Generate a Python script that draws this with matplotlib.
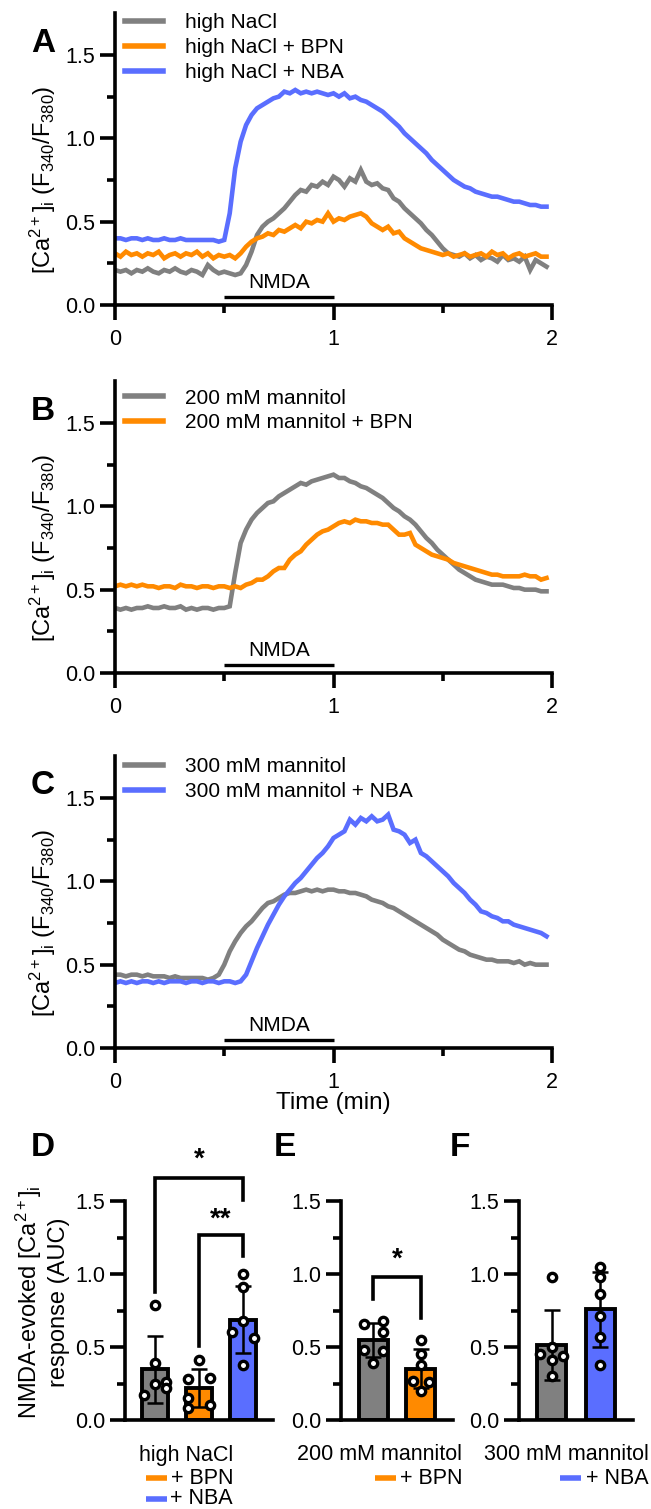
import numpy as np
import matplotlib
matplotlib.use('Agg')
import matplotlib.pyplot as plt
from matplotlib.lines import Line2D

plt.rcParams['font.family'] = ['Liberation Sans', 'DejaVu Sans']
plt.rcParams['mathtext.fontset'] = 'custom'
plt.rcParams['mathtext.rm'] = 'Liberation Sans'
plt.rcParams['mathtext.it'] = 'Liberation Sans:italic'
plt.rcParams['mathtext.bf'] = 'Liberation Sans:bold'

GRAY = '#808080'
ORANGE = '#FF8A00'
BLUE = '#5A6EFF'

# sample times (min), one frame every 1.5 s
time_min = np.arange(80) * 0.025

# panel A - high NaCl
a_nacl = [0.21, 0.20, 0.21, 0.19, 0.21, 0.20, 0.22, 0.20, 0.19, 0.21,
          0.20, 0.22, 0.20, 0.19, 0.21, 0.20, 0.18, 0.24, 0.21, 0.19,
          0.20, 0.19, 0.18, 0.19, 0.24, 0.32, 0.42, 0.47, 0.50, 0.52,
          0.55, 0.58, 0.62, 0.66, 0.69, 0.68, 0.72, 0.71, 0.74, 0.72,
          0.77, 0.75, 0.71, 0.76, 0.74, 0.81, 0.74, 0.72, 0.73, 0.70,
          0.69, 0.64, 0.62, 0.58, 0.55, 0.52, 0.49, 0.45, 0.42, 0.38,
          0.34, 0.31, 0.30, 0.29, 0.31, 0.28, 0.30, 0.27, 0.29, 0.28,
          0.26, 0.30, 0.27, 0.28, 0.26, 0.29, 0.21, 0.27, 0.25, 0.23]
a_bpn = [0.31, 0.29, 0.32, 0.30, 0.31, 0.29, 0.31, 0.30, 0.32, 0.28,
         0.30, 0.31, 0.29, 0.31, 0.30, 0.32, 0.29, 0.31, 0.28, 0.30,
         0.29, 0.30, 0.28, 0.31, 0.35, 0.38, 0.40, 0.41, 0.43, 0.42,
         0.45, 0.44, 0.46, 0.48, 0.46, 0.50, 0.49, 0.51, 0.50, 0.55,
         0.50, 0.52, 0.51, 0.53, 0.54, 0.55, 0.53, 0.49, 0.47, 0.45,
         0.47, 0.43, 0.44, 0.40, 0.38, 0.36, 0.34, 0.33, 0.32, 0.31,
         0.30, 0.31, 0.29, 0.30, 0.31, 0.29, 0.30, 0.31, 0.29, 0.32,
         0.30, 0.31, 0.28, 0.30, 0.31, 0.29, 0.30, 0.31, 0.29, 0.29]
a_nba = [0.40, 0.40, 0.39, 0.40, 0.40, 0.39, 0.40, 0.39, 0.39, 0.40,
         0.39, 0.39, 0.40, 0.39, 0.39, 0.39, 0.39, 0.39, 0.39, 0.38,
         0.39, 0.55, 0.82, 0.98, 1.08, 1.14, 1.18, 1.20, 1.22, 1.24,
         1.25, 1.28, 1.27, 1.29, 1.27, 1.28, 1.27, 1.28, 1.27, 1.26,
         1.27, 1.25, 1.27, 1.24, 1.25, 1.23, 1.22, 1.20, 1.18, 1.16,
         1.13, 1.10, 1.07, 1.03, 1.00, 0.97, 0.94, 0.91, 0.87, 0.84,
         0.81, 0.78, 0.75, 0.73, 0.71, 0.70, 0.68, 0.67, 0.66, 0.65,
         0.65, 0.64, 0.63, 0.62, 0.62, 0.61, 0.60, 0.60, 0.59, 0.59]

# panel B - 200 mM mannitol
b_man = [0.39, 0.38, 0.39, 0.38, 0.39, 0.39, 0.40, 0.39, 0.39, 0.40,
         0.39, 0.39, 0.40, 0.38, 0.39, 0.38, 0.39, 0.39, 0.38, 0.39,
         0.39, 0.40, 0.60, 0.78, 0.86, 0.92, 0.96, 0.99, 1.02, 1.03,
         1.06, 1.08, 1.10, 1.12, 1.14, 1.13, 1.15, 1.16, 1.17, 1.18,
         1.19, 1.17, 1.17, 1.15, 1.14, 1.12, 1.11, 1.09, 1.07, 1.05,
         1.02, 0.99, 0.97, 0.94, 0.92, 0.89, 0.85, 0.81, 0.78, 0.74,
         0.71, 0.68, 0.65, 0.62, 0.60, 0.58, 0.56, 0.55, 0.54, 0.53,
         0.53, 0.53, 0.52, 0.51, 0.51, 0.50, 0.50, 0.50, 0.49, 0.49]
b_bpn = [0.52, 0.53, 0.52, 0.53, 0.52, 0.53, 0.52, 0.52, 0.51, 0.52,
         0.52, 0.51, 0.53, 0.52, 0.52, 0.51, 0.52, 0.52, 0.51, 0.52,
         0.52, 0.51, 0.52, 0.51, 0.53, 0.54, 0.56, 0.56, 0.58, 0.61,
         0.63, 0.63, 0.68, 0.71, 0.73, 0.77, 0.80, 0.83, 0.85, 0.86,
         0.88, 0.90, 0.91, 0.90, 0.92, 0.91, 0.91, 0.90, 0.90, 0.89,
         0.89, 0.86, 0.83, 0.83, 0.84, 0.77, 0.75, 0.73, 0.71, 0.70,
         0.69, 0.68, 0.66, 0.65, 0.64, 0.63, 0.62, 0.61, 0.60, 0.59,
         0.59, 0.58, 0.58, 0.58, 0.58, 0.59, 0.58, 0.58, 0.56, 0.57]

# panel C - 300 mM mannitol
c_man = [0.44, 0.44, 0.43, 0.44, 0.44, 0.43, 0.44, 0.43, 0.43, 0.43,
         0.42, 0.43, 0.42, 0.42, 0.42, 0.42, 0.42, 0.41, 0.42, 0.44,
         0.50, 0.58, 0.64, 0.69, 0.73, 0.76, 0.80, 0.84, 0.87, 0.88,
         0.90, 0.92, 0.93, 0.93, 0.94, 0.95, 0.94, 0.95, 0.94, 0.95,
         0.95, 0.94, 0.94, 0.93, 0.93, 0.92, 0.91, 0.89, 0.88, 0.87,
         0.85, 0.84, 0.82, 0.80, 0.78, 0.76, 0.74, 0.72, 0.70, 0.68,
         0.65, 0.63, 0.61, 0.59, 0.58, 0.56, 0.55, 0.54, 0.53, 0.53,
         0.52, 0.52, 0.52, 0.51, 0.52, 0.50, 0.51, 0.50, 0.50, 0.50]
c_nba = [0.39, 0.40, 0.39, 0.40, 0.39, 0.40, 0.40, 0.39, 0.40, 0.39,
         0.40, 0.40, 0.40, 0.39, 0.40, 0.40, 0.39, 0.40, 0.40, 0.39,
         0.40, 0.40, 0.39, 0.40, 0.44, 0.52, 0.60, 0.67, 0.74, 0.80,
         0.86, 0.91, 0.95, 0.99, 1.02, 1.06, 1.10, 1.14, 1.17, 1.21,
         1.26, 1.28, 1.30, 1.37, 1.34, 1.38, 1.36, 1.39, 1.36, 1.37,
         1.40, 1.31, 1.30, 1.28, 1.23, 1.25, 1.17, 1.15, 1.12, 1.09,
         1.06, 1.03, 0.99, 0.96, 0.93, 0.89, 0.86, 0.82, 0.81, 0.79,
         0.78, 0.76, 0.76, 0.74, 0.73, 0.72, 0.71, 0.70, 0.69, 0.67]

# AUC per coverslip
d_nacl = [0.79, 0.39, 0.25, 0.26, 0.22, 0.17]
d_bpn = [0.41, 0.28, 0.29, 0.15, 0.08, 0.10]
d_nba = [1.00, 0.91, 0.68, 0.60, 0.56, 0.38]
e_man = [0.66, 0.68, 0.60, 0.48, 0.47, 0.39]
e_bpn = [0.55, 0.45, 0.38, 0.27, 0.26, 0.20]
f_man = [0.98, 0.50, 0.45, 0.44, 0.41, 0.30]
f_nba = [1.05, 0.98, 0.86, 0.71, 0.57, 0.38]

W, H = 651, 1509
fig = plt.figure(figsize=(W / 100, H / 100), dpi=100)


def px_axes(left, right, bottom, top):
    return fig.add_axes([left / W, 1 - bottom / H, (right - left) / W, (bottom - top) / H])


def style(ax):
    ax.spines['top'].set_visible(False)
    ax.spines['right'].set_visible(False)
    ax.spines['left'].set_linewidth(2.6)
    ax.spines['bottom'].set_linewidth(2.6)
    ax.tick_params(which='major', length=11, width=2.6, labelsize=15.5, pad=3)
    ax.tick_params(which='minor', length=6, width=2.6)
    ax.set_yticks([0.25, 0.75, 1.25], minor=True)


ylab = '[Ca$^{2+}$]$_\\mathrm{i}$ (F$_{340}$/F$_{380}$)'


def trace_panel(zero_px, traces, labels, colors, leg_top, letter):
    ax = px_axes(115, 552, zero_px, zero_px - 291.7)
    for y, lab, c in zip(traces, labels, colors):
        ax.plot(time_min, y, color=c, lw=3.3, label=lab, solid_joinstyle='miter')
    ax.set_xlim(0, 2)
    ax.set_ylim(0, 1.75)
    ax.set_xticks([0, 1, 2])
    ax.set_xticklabels(['0', '1', '2'])
    ax.set_xticks([0.5, 1.5], minor=True)
    ax.set_yticks([0, 0.5, 1.0, 1.5])
    ax.set_yticklabels(['0.0', '0.5', '1.0', '1.5'])
    style(ax)
    ax.tick_params(axis='x', pad=6)
    # NMDA application bar
    ax.plot([0.5, 1.0], [0.045, 0.045], color='black', lw=2.4, solid_capstyle='butt')
    ax.text(0.75, 0.075, 'NMDA', ha='center', va='bottom', fontsize=15)
    leg = ax.legend(loc='upper left', bbox_to_anchor=(0.023, leg_top), frameon=False,
                    fontsize=15, handlelength=1.8, handletextpad=1.1,
                    labelspacing=0.28, borderaxespad=0, borderpad=0)
    for ln in leg.get_lines():
        ln.set_linewidth(4)
    fig.text(43 / W, 1 - (zero_px - 125) / H, ylab, rotation=90, ha='center', va='center',
             fontsize=17)
    fig.text(43 / W, 1 - (zero_px - 262) / H, letter, fontsize=24, fontweight='bold',
             ha='center', va='center')
    return ax


trace_panel(305, [a_nacl, a_bpn, a_nba], ['high NaCl', 'high NaCl + BPN', 'high NaCl + NBA'],
            [GRAY, ORANGE, BLUE], 1.0, 'A')
trace_panel(673, [b_man, b_bpn], ['200 mM mannitol', '200 mM mannitol + BPN'],
            [GRAY, ORANGE], 0.975, 'B')
axc = trace_panel(1048, [c_man, c_nba], ['300 mM mannitol', '300 mM mannitol + NBA'],
                  [GRAY, BLUE], 0.996, 'C')
fig.text(333.5 / W, 1 - 1103 / H, 'Time (min)', ha='center', va='center', fontsize=17.5)


def bar_panel(left, right, groups, colors, offsets):
    ax = px_axes(left, right, 1420, 1201)
    n = len(groups)
    xs = np.arange(n)
    means = [np.mean(g) for g in groups]
    sds = [np.std(g, ddof=1) for g in groups]
    ax.bar(xs, means, width=0.6, color=colors, edgecolor='black', linewidth=2.8, zorder=1)
    ax.errorbar(xs, means, yerr=sds, fmt='none', ecolor='black', elinewidth=1.8,
                capsize=5.5, capthick=1.8, zorder=3)
    for x, g, off in zip(xs, groups, offsets):
        ax.plot(x + np.array(off), g, 'o', ms=6, mfc='white', mec='black', mew=2.4,
                zorder=4, clip_on=False)
    ax.set_xlim(-0.68, n - 1 + 0.68)
    ax.set_ylim(0, 1.5)
    ax.set_yticks([0, 0.5, 1.0, 1.5])
    ax.set_yticklabels(['0.0', '0.5', '1.0', '1.5'])
    ax.set_xticks([])
    style(ax)
    return ax


def bracket(ax, x0, x1, y, y0, y1, stars, ystar):
    ax.plot([x0, x0, x1, x1], [y0, y, y, y1], color='black', lw=2.6, clip_on=False,
            solid_joinstyle='miter')
    ax.text((x0 + x1) / 2, ystar, stars, ha='center', va='center', fontsize=20,
            fontweight='bold')


axd = bar_panel(125, 273, [d_nacl, d_bpn, d_nba], [GRAY, ORANGE, BLUE],
                [[0, 0, 0, 0.24, 0.24, -0.24], [0, -0.24, 0.24, -0.24, -0.24, 0.24],
                 [0, 0, 0, -0.24, 0.24, 0]])
bracket(axd, 0, 2, 1.66, 0.88, 1.51, '*', 1.78)
bracket(axd, 1, 2, 1.27, 0.51, 1.12, '**', 1.37)
axe = bar_panel(341, 453, [e_man, e_bpn], [GRAY, ORANGE],
                [[-0.2, 0.2, 0.2, -0.2, 0.2, 0], [0, 0, 0, -0.17, 0.17, 0]])
bracket(axe, 0, 1, 0.98, 0.83, 0.70, '*', 1.10)
axf = bar_panel(519, 633, [f_man, f_nba], [GRAY, BLUE],
                [[0, 0, -0.24, 0.24, 0, 0], [0, 0, 0, 0, 0, 0]])

fig.text(42 / W, 1 - 1302 / H, 'NMDA-evoked [Ca$^{2+}$]$_\\mathrm{i}$\nresponse (AUC)',
         rotation=90, ha='center', va='center', fontsize=17, linespacing=1.25)
for x, letter in [(43, 'D'), (285, 'E'), (460, 'F')]:
    fig.text(x / W, 1 - 1147 / H, letter, fontsize=24, fontweight='bold',
             ha='center', va='center')

# group labels under the bar panels
rows = [
    (233, 'high NaCl', [('+ BPN', ORANGE, 146), ('+ NBA', BLUE, 146)]),
    (462, '200 mM mannitol', [('+ BPN', ORANGE, 375)]),
    (649, '300 mM mannitol', [('+ NBA', BLUE, 560)]),
]
for xr, title, extras in rows:
    fig.text(xr / W, 1 - 1455 / H, title, ha='right', va='center', fontsize=15.5)
    for k, (txt, col, xl) in enumerate(extras):
        yy = 1478 + 21 * k
        fig.text(xr / W, 1 - yy / H, txt, ha='right', va='center', fontsize=15.5)
        fig.add_artist(Line2D([xl / W, (xl + 21) / W], [1 - yy / H, 1 - yy / H],
                              color=col, lw=4, transform=fig.transFigure,
                              solid_capstyle='butt'))

fig.savefig('out.png', dpi=100)
